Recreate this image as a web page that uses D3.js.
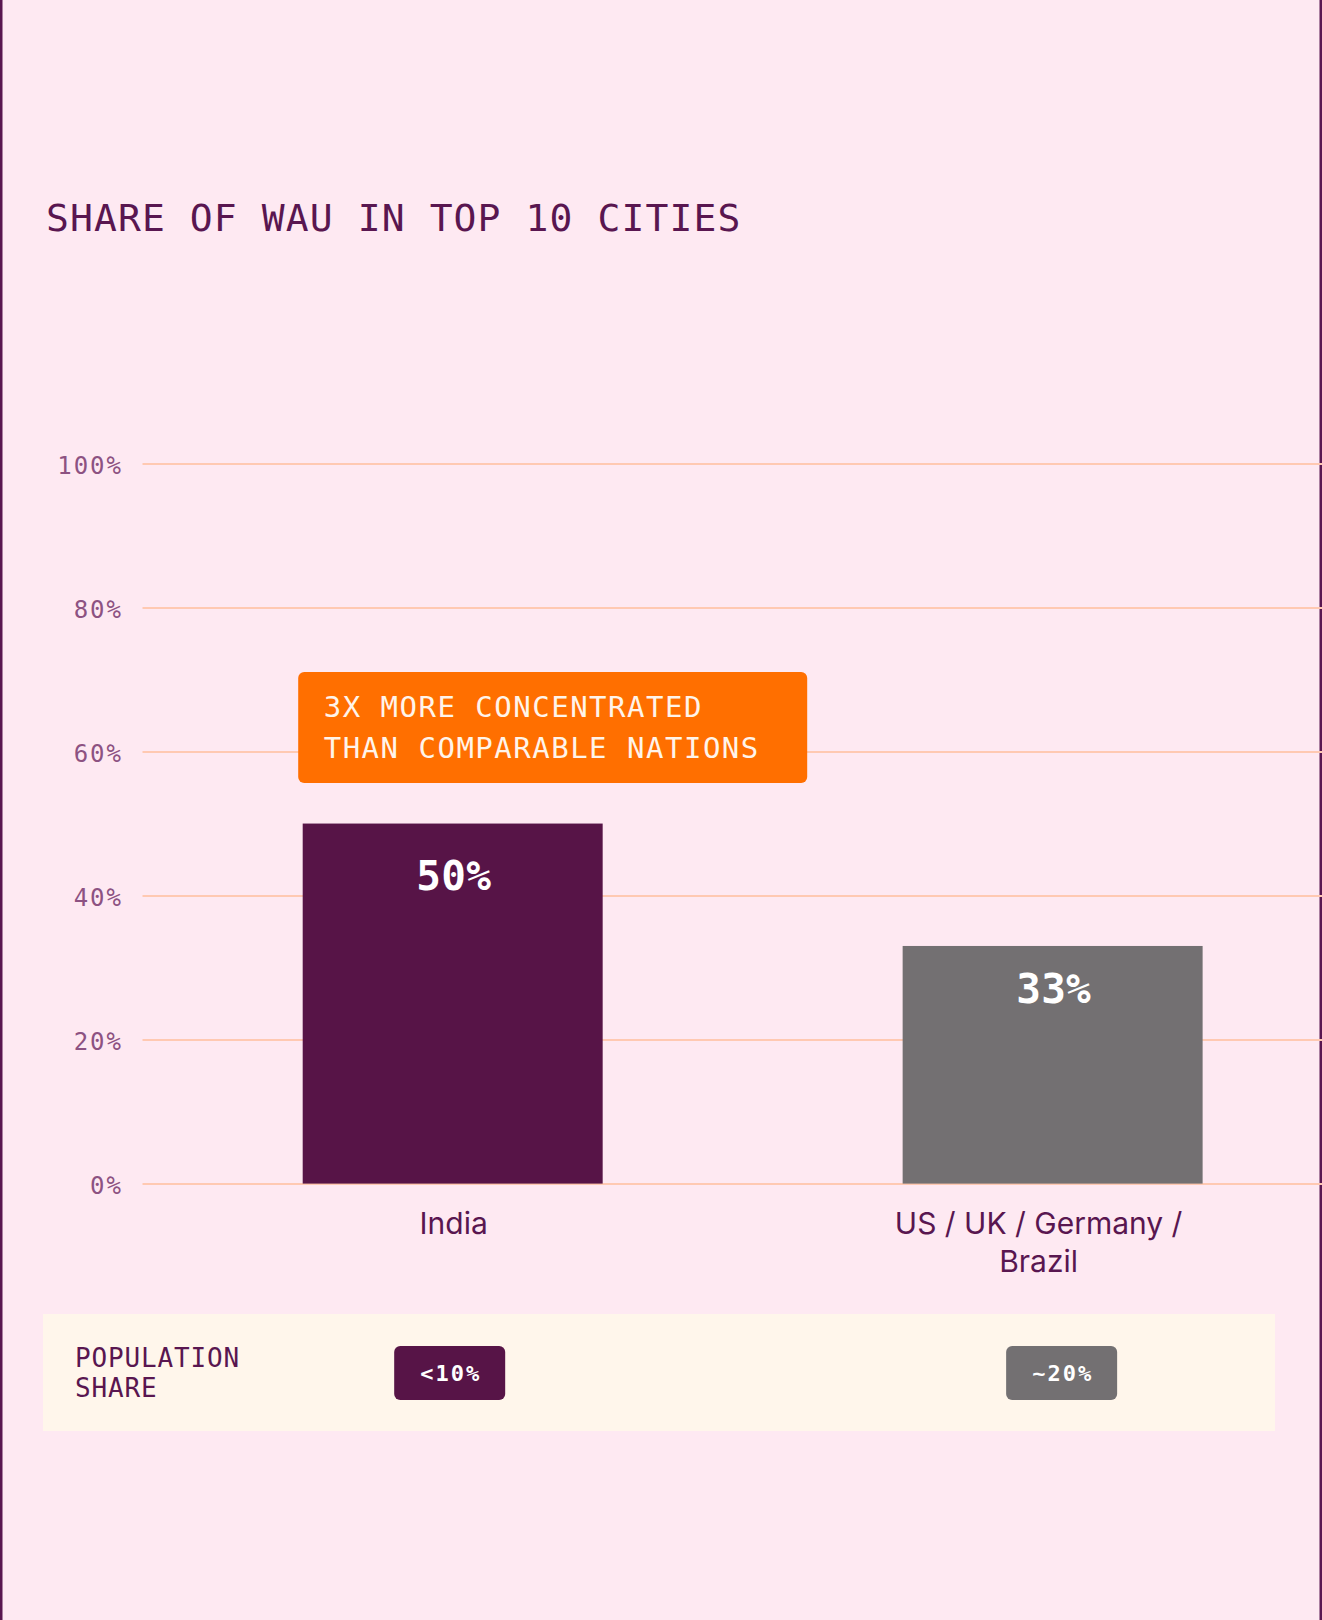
<!DOCTYPE html>
<html>
<head>
<meta charset="utf-8">
<script src="https://cdn.jsdelivr.net/npm/d3@7"></script>
<style>
  html, body { margin: 0; padding: 0; background: #fee9f2; }
  svg { display: block; }
</style>
</head>
<body>
<svg id="chart" width="1322" height="1620"></svg>
<script>
// ---- data ----
const title = "SHARE OF WAU IN TOP 10 CITIES";
const categories = ["India", "US / UK / Germany / Brazil"];
const categoryLines = [["India"], ["US / UK / Germany /", "Brazil"]];
const values = [50, 33];
const valueLabels = ["50%", "33%"];
const yTicks = [0, 20, 40, 60, 80, 100];
const annotationLines = ["3X MORE CONCENTRATED", "THAN COMPARABLE NATIONS"];
const populationTitle = ["POPULATION", "SHARE"];
const populationShare = ["<10%", "~20%"];
const barColors = ["#571447", "#737072"];

// ---- layout ----
const W = 1322, H = 1620;
const plotLeft = 142.5, plotRight = 1322;
const yTop = 463.5, yBottom = 1183.6;
const mono = "'DejaVu Sans Mono', 'Liberation Mono', monospace";
const sans = "Inter, 'Liberation Sans', sans-serif";
const dark = "#591650";

const svg = d3.select("#chart");

const x = d3.scaleBand()
  .domain(categories)
  .range([plotLeft, plotRight])
  .paddingInner(0.5)
  .paddingOuter(0.233)
  .align(0.573);

const y = d3.scaleLinear().domain([0, 100]).range([yBottom, yTop]);

// side borders
svg.append("rect").attr("x", 0).attr("y", 0).attr("width", 2.5).attr("height", H).attr("fill", dark);
svg.append("rect").attr("x", W - 2.5).attr("y", 0).attr("width", 2.5).attr("height", H).attr("fill", dark);

// title
svg.append("text")
  .attr("x", 46).attr("y", 231)
  .attr("font-family", mono).attr("font-size", 38)
  .attr("letter-spacing", 1.1)
  .attr("fill", dark)
  .text(title);

// gridlines
const grid = svg.append("g")
  .attr("transform", `translate(${plotLeft},0)`)
  .call(d3.axisRight(y).tickValues(yTicks).tickSize(plotRight - plotLeft).tickFormat(""));
grid.select(".domain").remove();
grid.selectAll(".tick line").attr("stroke", "#ffc9b2").attr("stroke-width", 2);

// y tick labels
const yAxis = svg.append("g")
  .attr("transform", `translate(123,0)`)
  .call(d3.axisLeft(y).tickValues(yTicks).tickSize(0).tickPadding(0).tickFormat(d => d + "%"));
yAxis.select(".domain").remove();
yAxis.selectAll(".tick text")
  .attr("font-family", mono).attr("font-size", 24)
  .attr("letter-spacing", 2)
  .attr("fill", "#8d5282")
  .attr("dy", null)
  .attr("y", 10);

// bars
svg.append("g").selectAll("rect")
  .data(categories)
  .join("rect")
  .attr("x", d => x(d))
  .attr("y", (d, i) => y(values[i]))
  .attr("width", x.bandwidth())
  .attr("height", (d, i) => y(0) - y(values[i]))
  .attr("fill", (d, i) => barColors[i]);

// value labels
const labelOffsets = [66, 57];
svg.append("g").selectAll("text")
  .data(categories)
  .join("text")
  .attr("x", d => x(d) + x.bandwidth() / 2 + 1)
  .attr("y", (d, i) => y(values[i]) + labelOffsets[i])
  .attr("text-anchor", "middle")
  .attr("font-family", mono).attr("font-weight", "bold").attr("font-size", 41)
  .attr("letter-spacing", 0.3)
  .attr("fill", "#ffffff")
  .text((d, i) => valueLabels[i]);

// x category labels
const xOffsets = [1, -14];
categories.forEach((c, i) => {
  const t = svg.append("text")
    .attr("x", x(c) + x.bandwidth() / 2 + xOffsets[i])
    .attr("y", 1234)
    .attr("text-anchor", "middle")
    .attr("font-family", sans).attr("font-size", 30)
    .attr("fill", dark);
  categoryLines[i].forEach((line, j) => {
    t.append("tspan")
      .attr("x", x(c) + x.bandwidth() / 2 + xOffsets[i])
      .attr("dy", j === 0 ? 0 : 38)
      .text(line);
  });
});

// annotation box
const ax = x(categories[0]) - 4.5;
const ay = y(values[0]) - 151.5;
svg.append("rect")
  .attr("x", ax).attr("y", ay)
  .attr("width", 509).attr("height", 111)
  .attr("rx", 6)
  .attr("fill", "#ff6f00");
svg.append("g").selectAll("text")
  .data(annotationLines)
  .join("text")
  .attr("x", ax + 25.5)
  .attr("y", (d, i) => ay + 45 + i * 40.5)
  .attr("font-family", mono).attr("font-size", 29)
  .attr("letter-spacing", 1.5)
  .attr("fill", "#fff4ea")
  .text(d => d);

// population band
svg.append("rect")
  .attr("x", 43).attr("y", 1314)
  .attr("width", 1232).attr("height", 117)
  .attr("fill", "#fff6eb");
svg.append("g").selectAll("text")
  .data(populationTitle)
  .join("text")
  .attr("x", 75)
  .attr("y", (d, i) => 1367 + i * 30)
  .attr("font-family", mono).attr("font-size", 26)
  .attr("letter-spacing", 0.85)
  .attr("fill", dark)
  .text(d => d);

const pillOffsets = [-3, 9];
const pillW = 111, pillH = 54;
categories.forEach((c, i) => {
  const cx = x(c) + x.bandwidth() / 2 + pillOffsets[i];
  svg.append("rect")
    .attr("x", cx - pillW / 2).attr("y", 1346)
    .attr("width", pillW).attr("height", pillH)
    .attr("rx", 6)
    .attr("fill", barColors[i]);
  svg.append("text")
    .attr("x", cx + 1).attr("y", 1381)
    .attr("text-anchor", "middle")
    .attr("font-family", mono).attr("font-weight", "bold").attr("font-size", 22)
    .attr("letter-spacing", 2)
    .attr("fill", "#ffffff")
    .text(populationShare[i]);
});
</script>
</body>
</html>
